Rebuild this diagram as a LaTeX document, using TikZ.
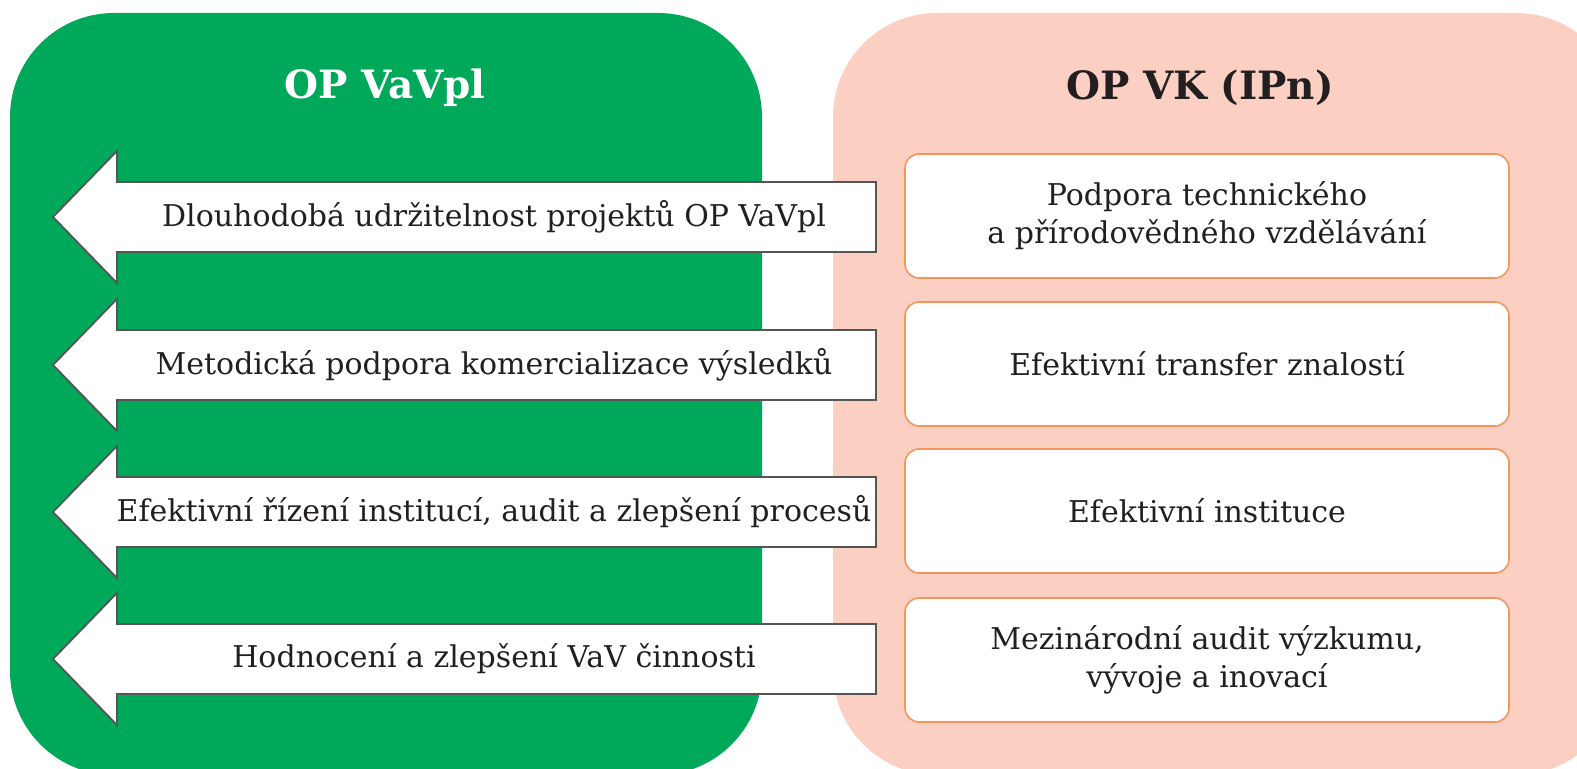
\documentclass[tikz,border=0pt]{standalone}
\usepackage{fontspec}
\setmainfont{DejaVu Serif}
\definecolor{vagreen}{HTML}{00A85A}
\definecolor{vkpink}{HTML}{FBD0C3}
\definecolor{vkorange}{HTML}{F7945B}
\definecolor{arrowgray}{HTML}{555555}
\definecolor{textgray}{HTML}{231F20}
\tikzset{
  panel/.style={rounded corners=52pt},
  arrowbody/.style={draw=arrowgray, fill=white, line width=0.9pt},
  actiontext/.style={text=textgray, font=\fontsize{15}{18}\selectfont},
  goal/.style={draw=vkorange, fill=white, rounded corners=7pt, line width=0.8pt,
    minimum width=302pt, minimum height=62pt, align=center, text=textgray,
    font=\fontsize{15}{19}\selectfont},
  paneltitle/.style={font=\bfseries\fontsize{19.5}{24}\selectfont}
}
\begin{document}
\begin{tikzpicture}[x=0.5pt, y=-0.5pt]
    \useasboundingbox (0,0) rectangle (1577,769);
    % two panels
    \fill[vagreen, panel] (10,13) rectangle (762,775);
    \fill[vkpink, panel] (833,13) rectangle (1620,775);
    \node[paneltitle, text=white, name=vavpl] at (385,88) {OP VaVpl};
    \node[paneltitle, text=textgray, name=vk] at (1200,88) {OP VK (IPn)};
    % arrows into OP VaVpl
    \foreach \y/\n/\txt in {217/1/{Dlouhodobá udržitelnost projektů OP VaVpl},
        365/2/{Metodická podpora komercializace výsledků},
        512/3/{Efektivní řízení institucí, audit a zlepšení procesů},
        659/4/{Hodnocení a zlepšení VaV činnosti}} {
      \draw[arrowbody] (876,\y-35) -- (117,\y-35) -- (117,\y-66) -- (53,\y)
        -- (117,\y+66) -- (117,\y+35) -- (876,\y+35) -- cycle;
      \node[actiontext, name=action\n] at (494,\y) {\txt};
    }
    % goals of OP VK
    \node[goal, name=goal1] at (1207,216) {Podpora technického\\a přírodovědného vzdělávání};
    \node[goal, name=goal2] at (1207,364) {Efektivní transfer znalostí};
    \node[goal, name=goal3] at (1207,511) {Efektivní instituce};
    \node[goal, name=goal4] at (1207,660) {Mezinárodní audit výzkumu,\\vývoje a inovací};
\end{tikzpicture}
\end{document}
